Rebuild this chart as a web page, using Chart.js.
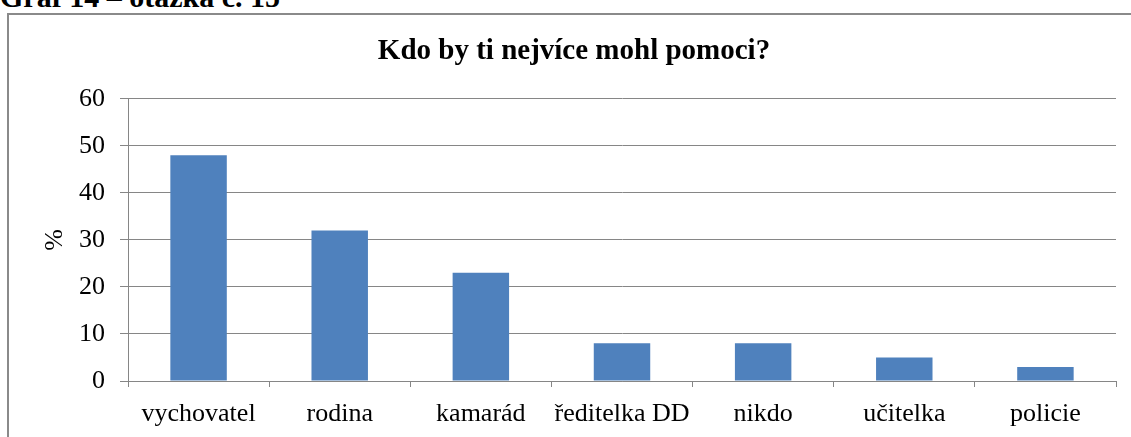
<!DOCTYPE html>
<html>
<head>
<meta charset="utf-8">
<script src="https://cdn.jsdelivr.net/npm/chart.js@4/dist/chart.umd.min.js"></script>
<style>
  html, body { margin: 0; padding: 0; background: #fff; overflow: hidden; }
  #wrap { position: relative; width: 1131px; height: 437px; }
  #heading { position: absolute; left: 0; top: -18px; font: bold 30px/30px "Liberation Serif", serif; white-space: nowrap; }
  #frame { position: absolute; left: 7px; top: 13px; width: 1200px; height: 500px;
    border-left: 2px solid #8a8a8a; border-top: 2px solid #8a8a8a; }
  #box { position: absolute; left: 0; top: 0; width: 1131px; height: 437px; }
</style>
</head>
<body>
<div id="wrap">
  <div id="heading">Graf 14 – otázka č. 15</div>
  <div id="frame"></div>
  <div id="box"><canvas id="c"></canvas></div>
</div>
<script>
const categories = ['vychovatel', 'rodina', 'kamarád', 'ředitelka DD', 'nikdo', 'učitelka', 'policie'];
const values = [48, 32, 23, 8, 8, 5, 3];
const yTicks = [0, 10, 20, 30, 40, 50, 60];

const SERIF = '"Liberation Serif", "Times New Roman", serif';
const GRID = '#868686';

new Chart(document.getElementById('c'), {
  type: 'bar',
  data: {
    labels: categories,
    datasets: [{ data: values, backgroundColor: '#4f81bd', categoryPercentage: 1, barPercentage: 0.4 }],
  },
  options: {
    responsive: true,
    maintainAspectRatio: false,
    animation: false,
    layout: { padding: { left: 32, right: 15, top: 0, bottom: 0 } },
    plugins: {
      legend: { display: false },
      tooltip: { enabled: false },
      title: {
        display: true,
        text: 'Kdo by ti nejvíce mohl pomoci?',
        color: '#000',
        font: { family: SERIF, size: 29, weight: 'bold' },
        padding: { top: 34, bottom: 30 },
      },
    },
    scales: {
      x: {
        grid: { drawOnChartArea: false, drawTicks: true, tickLength: 6, color: GRID, lineWidth: 1 },
        border: { color: GRID, width: 1 },
        ticks: { color: '#000', font: { family: SERIF, size: 26 }, padding: 12, maxRotation: 0 },
        afterFit: (s) => { s.height = 437 - 381; },
      },
      y: {
        min: 0,
        max: 60,
        afterBuildTicks: (s) => { s.ticks = yTicks.map((v) => ({ value: v })); },
        grid: { color: GRID, lineWidth: 1, tickLength: 8 },
        border: { color: GRID, width: 1 },
        ticks: { color: '#000', font: { family: SERIF, size: 26 }, padding: 15 },
        title: { display: true, text: '%', color: '#000', font: { family: SERIF, size: 26 }, padding: { top: 8, bottom: 0 } },
        afterFit: (s) => { s.width = 128 - 32; },
      },
    },
  },
});
</script>
</body>
</html>
